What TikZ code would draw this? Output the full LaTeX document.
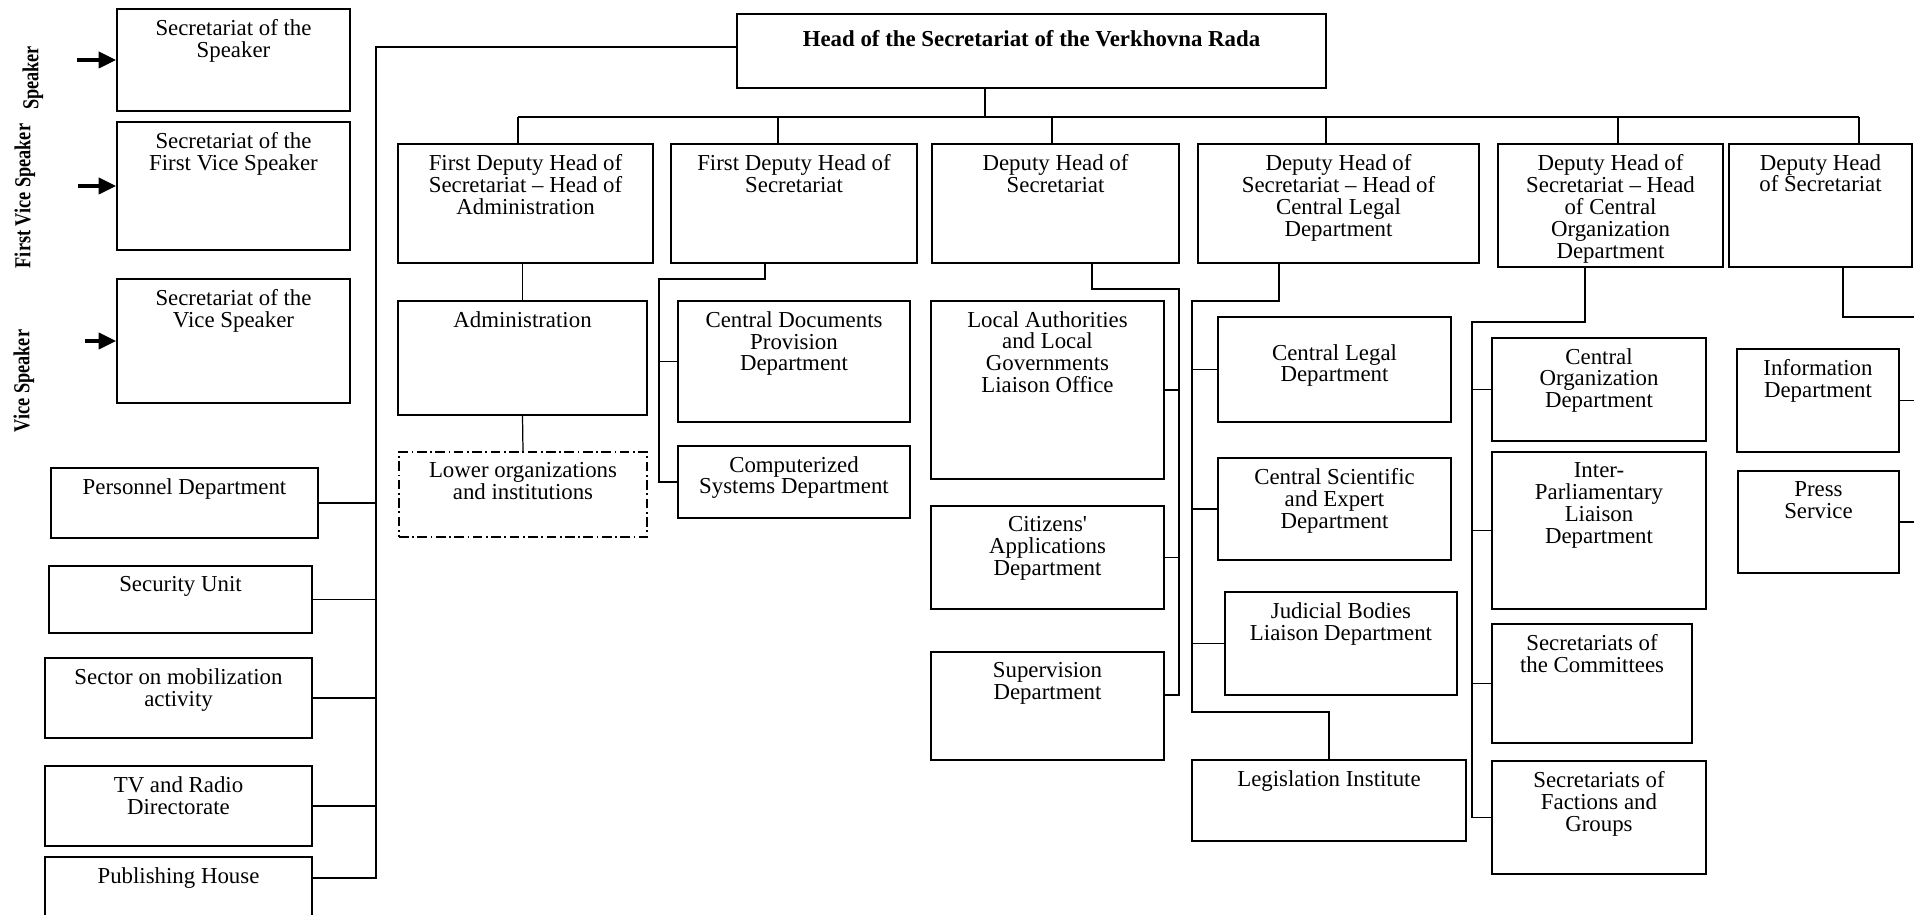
\documentclass[tikz,border=0pt]{standalone}
\usepackage{fontspec}
\setmainfont{Liberation Serif}
\usepackage{graphicx}
\usetikzlibrary{arrows.meta,fit}

\begin{document}
\begin{tikzpicture}[x=0.02cm, y=-0.02cm,
	box/.style={draw, line width=0.8pt, inner sep=0pt},
	txt/.style={font=\fontsize{13}{12.5}\selectfont, align=center, anchor=north, inner sep=6pt},
	conn/.style={line width=0.7pt},
	side/.style={rotate=90, font=\bfseries\fontsize{13}{13}\selectfont},
	arr/.style={line width=2.2pt, -{Triangle[length=10pt,width=9pt]}}]
	\useasboundingbox (0,0) rectangle (1914,915); % Rand
	\fill[white] (0,0) rectangle (1914,915);
	
	% Sekretariate links oben
	\node[box, fit={(117,9) (350,111)}, label={[txt]north:Secretariat of the\\Speaker}] (spk) {};
	\node[box, fit={(117,122) (350,250)}, label={[txt]north:Secretariat of the\\First Vice Speaker}] (fvs) {};
	\node[box, fit={(117,279) (350,403)}, label={[txt]north:Secretariat of the\\Vice Speaker}] (vsp) {};
	
	\node[side] (lspk) at (33,78) {\scalebox{.8}[1]{Speaker}};
	\node[side] (lfvs) at (25,196) {\scalebox{.8}[1]{First Vice Speaker}};
	\node[side] (lvsp) at (24,381) {\scalebox{.8}[1]{Vice Speaker}};
	
	\draw[arr] ([xshift=-.78cm]spk.west) -- (spk.west);
	\draw[arr] ([xshift=-.76cm]fvs.west) -- (fvs.west);
	\draw[arr] ([xshift=-.62cm]vsp.west) -- (vsp.west);
	
	% Leitung
	\node[box, line width=1.6pt, fit={(737,14) (1326,88)}, label={[txt, font=\bfseries\fontsize{13}{12.5}\selectfont, label distance=-.14cm]north:Head of the Secretariat of the Verkhovna Rada}] (head) {};
	
	% Stellvertreter
	\node[box, fit={(398,144) (653,263)}, label={[txt]north:First Deputy Head of\\Secretariat -- Head of\\Administration}] (d1) {};
	\node[box, fit={(671,144) (917,263)}, label={[txt]north:First Deputy Head of\\Secretariat}] (d2) {};
	\node[box, fit={(932,144) (1179,263)}, label={[txt]north:Deputy Head of\\Secretariat}] (d3) {};
	\node[box, fit={(1198,144) (1479,263)}, label={[txt]north:Deputy Head of\\Secretariat -- Head of\\Central Legal\\Department}] (d4) {};
	\node[box, fit={(1498,144) (1723,267)}, label={[txt]north:Deputy Head of\\Secretariat -- Head\\of Central\\Organization\\Department}] (d5) {};
	\node[box, fit={(1729,144) (1912,267)}, label={[txt]north:Deputy Head\\of Secretariat}] (d6) {};
	
	% Abteilungen
	\node[box, fit={(398,301) (647,415)}, label={[txt]north:Administration}] (adm) {};
	\node[box, dash pattern=on 5.5pt off 2pt on 1pt off 2pt, fit={(399,452) (647,537)}, label={[txt]north:Lower organizations\\and institutions}] (low) {};
	\node[box, fit={(678,301) (910,422)}, label={[txt]north:Central Documents\\Provision\\Department}] (cdp) {};
	\node[box, fit={(678,446) (910,518)}, label={[txt]north:Computerized\\Systems Department}] (csd) {};
	\node[box, fit={(931,301) (1164,479)}, label={[txt]north:Local Authorities\\and Local\\Governments\\Liaison Office}] (lag) {};
	\node[box, fit={(931,506) (1164,609)}, label={[txt]north:Citizens\textquotesingle\\Applications\\Department}] (cit) {};
	\node[box, fit={(931,652) (1164,760)}, label={[txt]north:Supervision\\Department}] (sup) {};
	\node[box, fit={(1218,317) (1451,422)}, label={[txt, label distance=-.34cm]north:Central Legal\\Department}] (cld) {};
	\node[box, fit={(1218,458) (1451,560)}, label={[txt]north:Central Scientific\\and Expert\\Department}] (cse) {};
	\node[box, fit={(1225,592) (1457,695)}, label={[txt]north:Judicial Bodies\\Liaison Department}] (jud) {};
	\node[box, fit={(1192,760) (1466,841)}, label={[txt]north:Legislation Institute}] (leg) {};
	\node[box, fit={(1492,338) (1706,441)}, label={[txt]north:Central\\Organization\\Department}] (cod) {};
	\node[box, fit={(1492,452) (1706,609)}, label={[txt]north:Inter-\\Parliamentary\\Liaison\\Department}] (ipl) {};
	\node[box, fit={(1492,624) (1692,743)}, label={[txt]north:Secretariats of\\the Committees}] (sec) {};
	\node[box, fit={(1492,761) (1706,874)}, label={[txt]north:Secretariats of\\Factions and\\Groups}] (fac) {};
	\node[box, fit={(1737,349) (1899,452)}, label={[txt]north:Information\\Department}] (inf) {};
	\node[box, fit={(1738,471) (1899,573)}, label={[txt]north:Press\\Service}] (prs) {};
	
	% Einheiten links unten
	\node[box, fit={(51,468) (318,538)}, label={[txt]north:Personnel Department}] (per) {};
	\node[box, fit={(49,566) (312,633)}, label={[txt]north:Security Unit}] (scu) {};
	\node[box, fit={(45,658) (312,738)}, label={[txt]north:Sector on mobilization\\activity}] (mob) {};
	\node[box, fit={(45,766) (312,846)}, label={[txt]north:TV and Radio\\Directorate}] (tvr) {};
	\node[box, fit={(45,857) (312,925)}, label={[txt]north:Publishing House}] (pub) {};
	
	% Verbindungen
	\coordinate (lbus) at (376,878);
	\draw[conn] ([yshift=.08cm]head.west) -| (lbus) -- (lbus -| pub.east);
	\foreach \n in {per,scu,mob,tvr}
		\draw[conn] (\n.east) -- (\n.east -| lbus);
	
	\draw[conn] (985,0 |- head.south) -- (985,117);
	\draw[conn] (518,117) -- (1859,117);
	\foreach \n/\x in {d1/518,d2/778,d3/1052,d4/1326,d5/1618,d6/1859}
		\draw[conn] (\x,117) -- (\x,117 |- \n.north);
	
	\draw[conn] (adm.north |- d1.south) -- (adm.north);
	\draw[conn] (adm.south) -- (low.north);
	
	\coordinate (k2) at (659,279);
	\draw[conn] (765,0 |- d2.south) |- (k2) |- (csd.west);
	\draw[conn] (k2 |- cdp.west) -- (cdp.west);
	
	\coordinate (k3) at (1179,289);
	\draw[conn] (1092,0 |- d3.south) |- (k3) |- ([yshift=.22cm]sup.east);
	\draw[conn] (k3 |- lag.east) -- (lag.east);
	\draw[conn] (k3 |- cit.east) -- (cit.east);
	
	\coordinate (k4) at (1192,301);
	\draw[conn] (1279,0 |- d4.south) |- (k4) -- (1192,712) -| (leg.north);
	\foreach \n in {cld,cse,jud}
		\draw[conn] (k4 |- \n.west) -- (\n.west);
	
	\coordinate (k5) at (1472,322);
	\draw[conn] (1585,0 |- d5.south) |- (k5) |- (fac.west);
	\foreach \n in {cod,ipl,sec}
		\draw[conn] (k5 |- \n.west) -- (\n.west);
	
	\coordinate (k6) at (1930,317);
	\draw[conn] (1843,0 |- d6.south) |- (k6);
	\draw[conn] (inf.east) -- (inf.east -| k6);
	\draw[conn] (prs.east) -- (prs.east -| k6);
\end{tikzpicture}
\end{document}
